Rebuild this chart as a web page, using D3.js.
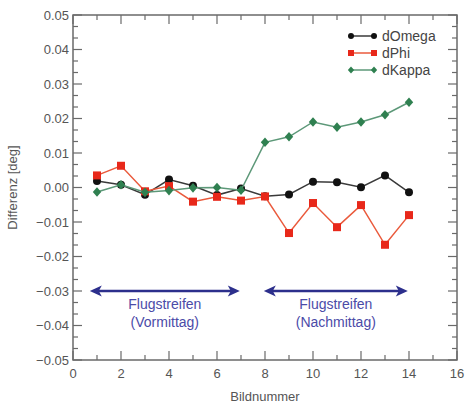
<!DOCTYPE html>
<html>
<head>
<meta charset="utf-8">
<script src="https://cdn.jsdelivr.net/npm/d3@7"></script>
<style>
  body { margin: 0; background: #ffffff; }
  svg { display: block; font-family: "Liberation Sans", Arial, sans-serif; }
</style>
</head>
<body>
<svg id="chart" width="467" height="407"></svg>
<script>
// Bildnummer (x) und Differenzen in Grad
const bildnummer = [1, 2, 3, 4, 5, 6, 7, 8, 9, 10, 11, 12, 13, 14];
const dOmega = [0.0019, 0.0008, -0.0021, 0.0023, 0.0005, -0.0022, -0.0003, -0.0025, -0.0020, 0.0017, 0.0015, 0.0001, 0.0035, -0.0014];
const dPhi   = [0.0035, 0.0063, -0.0011, 0.0004, -0.0041, -0.0027, -0.0038, -0.0026, -0.0132, -0.0045, -0.0115, -0.0051, -0.0166, -0.0080];
const dKappa = [-0.0013, 0.0008, -0.0014, -0.0009, -0.0001, 0.0000, -0.0008, 0.0131, 0.0147, 0.0190, 0.0175, 0.0190, 0.0211, 0.0247];

const seriesNames = ["dOmega", "dPhi", "dKappa"];
const xTicks = [0, 2, 4, 6, 8, 10, 12, 14, 16];
const yTicks = [0.05, 0.04, 0.03, 0.02, 0.01, 0.00, -0.01, -0.02, -0.03, -0.04, -0.05];

// Flugstreifen-Pfeile: [von, bis, Zeile1, Zeile2]
const streifen = [
  [0.7, 6.95, "Flugstreifen", "(Vormittag)"],
  [7.95, 13.95, "Flugstreifen", "(Nachmittag)"]
];
const streifenY = -0.03;

const margin = { top: 15, right: 10, bottom: 47, left: 73 };
const width = 467, height = 407;

const svg = d3.select("#chart");

const x = d3.scaleLinear().domain([0, 16]).range([margin.left, width - margin.right]);
const y = d3.scaleLinear().domain([-0.05, 0.05]).range([height - margin.bottom, margin.top]);

const axisColor = "#6a6a6a";
const textColor = "#555";

/*
* Achsen mit nach innen zeigenden Ticks (Haupt- und Nebenticks)
*/
function drawAxes() {
  const g = svg.append("g").attr("class", "axes");
  const minorX = d3.range(0, 16.01, 1);
  const minorY = d3.range(-0.05, 0.05001, 0.01 / 3);

  // Rahmen
  g.append("rect")
    .attr("x", x(0)).attr("y", y(0.05))
    .attr("width", x(16) - x(0)).attr("height", y(-0.05) - y(0.05))
    .attr("fill", "none").attr("stroke", axisColor).attr("stroke-width", 1.5);

  minorX.forEach(v => {
    const major = Math.round(v) % 2 === 0;
    const len = major ? 9 : 5;
    g.append("line").attr("x1", x(v)).attr("x2", x(v))
      .attr("y1", y(-0.05)).attr("y2", y(-0.05) - len)
      .attr("stroke", axisColor).attr("stroke-width", 1.2);
    g.append("line").attr("x1", x(v)).attr("x2", x(v))
      .attr("y1", y(0.05)).attr("y2", y(0.05) + len)
      .attr("stroke", axisColor).attr("stroke-width", 1.2);
  });

  minorY.forEach((v, i) => {
    const major = i % 3 === 0;
    const len = major ? 9 : 5;
    g.append("line").attr("x1", x(0)).attr("x2", x(0) + len)
      .attr("y1", y(v)).attr("y2", y(v))
      .attr("stroke", axisColor).attr("stroke-width", 1.2);
    g.append("line").attr("x1", x(16)).attr("x2", x(16) - len)
      .attr("y1", y(v)).attr("y2", y(v))
      .attr("stroke", axisColor).attr("stroke-width", 1.2);
  });

  g.selectAll(".xlabel").data(xTicks).enter().append("text")
    .attr("x", d => x(d)).attr("y", y(-0.05) + 18)
    .attr("text-anchor", "middle").attr("font-size", 13).attr("fill", textColor)
    .text(d => d);

  g.selectAll(".ylabel").data(yTicks).enter().append("text")
    .attr("x", x(0) - 4).attr("y", d => y(d) + 4.5)
    .attr("text-anchor", "end").attr("font-size", 13).attr("fill", textColor)
    .text(d => d3.format(".2f")(d));

  svg.append("text")
    .attr("x", (x(0) + x(16)) / 2).attr("y", 401)
    .attr("text-anchor", "middle").attr("font-size", 13).attr("fill", textColor)
    .text("Bildnummer");

  svg.append("text")
    .attr("transform", `translate(17, ${y(0)}) rotate(-90)`)
    .attr("text-anchor", "middle").attr("font-size", 13).attr("fill", textColor)
    .text("Differenz [deg]");
}

function marker(g, shape, cx, cy, color, s) {
  s = s || 4;
  if (shape === "circle") {
    g.append("circle").attr("cx", cx).attr("cy", cy).attr("r", s).attr("fill", color);
  } else if (shape === "square") {
    g.append("rect").attr("x", cx - s).attr("y", cy - s).attr("width", 2 * s).attr("height", 2 * s).attr("fill", color);
  } else {
    g.append("path").attr("d", `M${cx},${cy - s * 1.2}L${cx + s * 1.05},${cy}L${cx},${cy + s * 1.2}L${cx - s * 1.05},${cy}Z`).attr("fill", color);
  }
}

/*
* Datenreihen
*/
function drawSeries() {
  const series = [
    { name: seriesNames[0], values: dOmega, line: "#3a3a3a", fill: "#111", shape: "circle" },
    { name: seriesNames[1], values: dPhi, line: "#ea5a3c", fill: "#e8281a", shape: "square" },
    { name: seriesNames[2], values: dKappa, line: "#5c9878", fill: "#2f8050", shape: "diamond" }
  ];
  const line = d3.line().x(d => x(d[0])).y(d => y(d[1]));

  series.forEach(s => {
    const g = svg.append("g");
    const pts = bildnummer.map((b, i) => [b, s.values[i]]);
    g.append("path").attr("d", line(pts))
      .attr("fill", "none").attr("stroke", s.line).attr("stroke-width", 1.5);
    pts.forEach(p => marker(g, s.shape, x(p[0]), y(p[1]), s.fill));
  });

  // Legende
  const lg = svg.append("g");
  series.forEach((s, i) => {
    const ly = 36 + i * 17;
    lg.append("line").attr("x1", 351).attr("x2", 374).attr("y1", ly).attr("y2", ly)
      .attr("stroke", s.line).attr("stroke-width", 1.5);
    marker(lg, s.shape, 351, ly, s.fill, 3);
    marker(lg, s.shape, 374, ly, s.fill, 3);
    lg.append("text").attr("x", 382).attr("y", ly + 5)
      .attr("font-size", 14).attr("fill", "#444").text(s.name);
  });
}

/*
* Doppelpfeile mit Beschriftung
*/
function drawStreifen() {
  const col = "#2c2f8c";
  const yy = y(streifenY);
  streifen.forEach(st => {
    const x1 = x(st[0]), x2 = x(st[1]);
    svg.append("line").attr("x1", x1 + 6).attr("x2", x2 - 6).attr("y1", yy).attr("y2", yy)
      .attr("stroke", col).attr("stroke-width", 2.6);
    svg.append("path").attr("d", `M${x1},${yy}L${x1 + 12},${yy - 5.5}L${x1 + 9},${yy}L${x1 + 12},${yy + 5.5}Z`).attr("fill", col);
    svg.append("path").attr("d", `M${x2},${yy}L${x2 - 12},${yy - 5.5}L${x2 - 9},${yy}L${x2 - 12},${yy + 5.5}Z`).attr("fill", col);
    const cx = (x1 + x2) / 2;
    svg.append("text").attr("x", cx).attr("y", yy + 18)
      .attr("text-anchor", "middle").attr("font-size", 14).attr("fill", "#4b4ba8").text(st[2]);
    svg.append("text").attr("x", cx).attr("y", yy + 36)
      .attr("text-anchor", "middle").attr("font-size", 14).attr("fill", "#4b4ba8").text(st[3]);
  });
}

drawAxes();
drawSeries();
drawStreifen();
</script>
</body>
</html>
